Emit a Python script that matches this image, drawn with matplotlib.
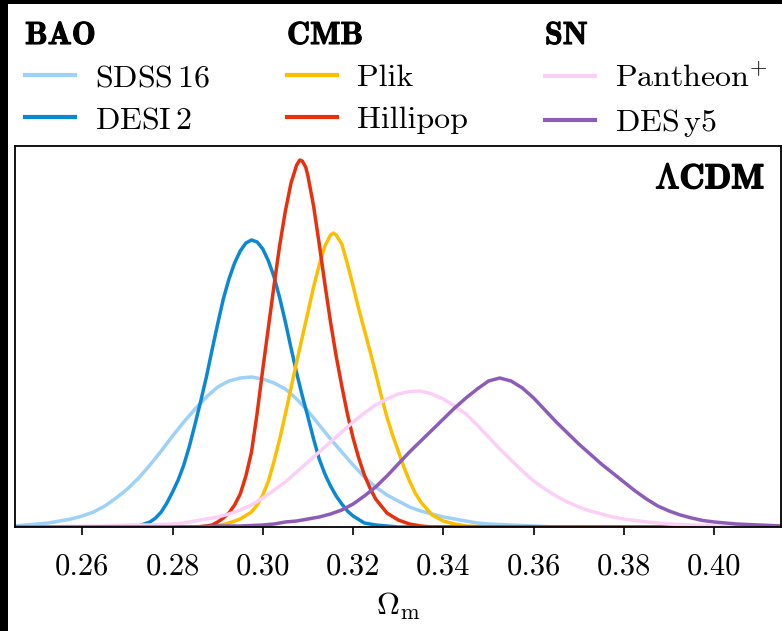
import matplotlib
matplotlib.use("Agg")
import matplotlib.pyplot as plt
import matplotlib.patheffects as pe
from matplotlib.patches import Rectangle
from matplotlib.font_manager import FontProperties
from matplotlib.ticker import FixedLocator, FixedFormatter

plt.rcParams.update({
    "font.family": "serif",
    "font.serif": ["cmr10"],
    "mathtext.fontset": "cm",
    "axes.unicode_minus": False,
    "axes.formatter.use_mathtext": True,
})

# ---------------- data (relative posterior heights) ----------------
sdss_x = [0.245, 0.2475, 0.250, 0.2525, 0.255, 0.2575, 0.260, 0.2625, 0.265, 0.2675,
          0.270, 0.2725, 0.275, 0.2775, 0.280, 0.2825, 0.285, 0.2875, 0.290, 0.2925,
          0.295, 0.2975, 0.300, 0.3025, 0.305, 0.3075, 0.310, 0.3125, 0.315, 0.3175,
          0.320, 0.3225, 0.325, 0.3275, 0.330, 0.3325, 0.335, 0.3375, 0.340, 0.3425,
          0.345, 0.3475, 0.350, 0.355, 0.360, 0.365, 0.415]
sdss_y = [1, 2, 3, 4, 6, 8, 11, 15, 21, 29,
          38, 49, 62, 76, 91, 105, 118, 130, 140, 146,
          149, 150, 148, 144, 138, 128, 116, 102, 88, 75,
          62, 50, 40, 32, 26, 20, 16, 13, 10, 8,
          6, 4, 3, 2, 1, 0, 0]

desi_x = [0.245, 0.270, 0.2725, 0.275, 0.27625, 0.2775, 0.27875, 0.280, 0.28125, 0.2825,
          0.28375, 0.285, 0.28625, 0.2875, 0.28875, 0.290, 0.29125, 0.2925, 0.29375, 0.295,
          0.29625, 0.2975, 0.29875, 0.300, 0.30125, 0.3025, 0.30375, 0.305, 0.30625, 0.3075,
          0.30875, 0.310, 0.31125, 0.3125, 0.31375, 0.315, 0.31625, 0.3175, 0.31875, 0.320,
          0.3225, 0.325, 0.3275, 0.330, 0.415]
desi_y = [0, 0, 1, 5, 9, 15, 24, 35, 47, 62,
          81, 103, 126, 150, 177, 203, 228, 248, 264, 276,
          284, 287, 285, 278, 266, 250, 229, 205, 179, 154,
          131, 110, 88, 68, 53, 41, 31, 23, 16, 11,
          4, 2, 1, 0, 0]

plik_x = [0.245, 0.285, 0.290, 0.2925, 0.295, 0.2975, 0.29875, 0.300, 0.30125, 0.3025,
          0.30375, 0.305, 0.30625, 0.3075, 0.30875, 0.310, 0.31125, 0.3125, 0.31375, 0.315,
          0.31563, 0.31625, 0.3175, 0.31875, 0.320, 0.32125, 0.3225, 0.32375, 0.325, 0.32625,
          0.3275, 0.32875, 0.330, 0.33125, 0.3325, 0.33375, 0.335, 0.3375, 0.340, 0.3425,
          0.345, 0.350, 0.415]
plik_y = [0, 0, 1, 4, 8, 15, 22, 32, 46, 66,
          88, 113, 139, 165, 190, 215, 240, 262, 281, 292,
          294, 292, 283, 263, 241, 218, 197, 176, 154, 131,
          110, 92, 76, 60, 46, 34, 25, 12, 6, 3,
          1, 0, 0]

hilli_x = [0.245, 0.285, 0.2875, 0.28875, 0.290, 0.29125, 0.2925, 0.29375, 0.295, 0.29625,
           0.2975, 0.29875, 0.300, 0.30125, 0.3025, 0.30375, 0.305, 0.30625, 0.3075, 0.3082,
           0.30875, 0.3095, 0.310, 0.31125, 0.3125, 0.31375, 0.315, 0.31625, 0.3175, 0.31875,
           0.320, 0.32125, 0.3225, 0.32375, 0.325, 0.3275, 0.330, 0.3325, 0.335, 0.3375,
           0.415]
hilli_y = [0, 0, 1, 2, 5, 9, 14, 22, 33, 51,
           75, 114, 158, 200, 242, 282, 316, 344, 362, 367,
           366, 360, 351, 321, 283, 243, 205, 171, 141, 113,
           89, 69, 52, 39, 28, 14, 7, 3, 1, 0,
           0]

panth_x = [0.245, 0.265, 0.270, 0.275, 0.280, 0.2825, 0.285, 0.2875, 0.290, 0.2925,
           0.295, 0.2975, 0.300, 0.3025, 0.305, 0.3075, 0.310, 0.3125, 0.315, 0.3175,
           0.320, 0.3225, 0.325, 0.3275, 0.330, 0.3325, 0.335, 0.3375, 0.340, 0.3425,
           0.345, 0.3475, 0.350, 0.3525, 0.355, 0.3575, 0.360, 0.3625, 0.365, 0.3675,
           0.370, 0.3725, 0.375, 0.3775, 0.380, 0.385, 0.390, 0.395, 0.400, 0.405,
           0.415]
panth_y = [0, 1, 2, 2, 3, 4, 6, 8, 10, 13,
           17, 22, 29, 37, 45, 55, 65, 75, 85, 95,
           105, 114, 122, 128, 133, 135.5, 136, 133, 128, 121,
           113, 102, 90, 78, 67, 56, 46, 38, 31, 25,
           20, 16, 13, 10, 8, 5, 3, 2, 1, 0,
           0]

desy5_x = [0.245, 0.285, 0.290, 0.295, 0.300, 0.3025, 0.305, 0.3075, 0.310, 0.3125,
           0.315, 0.3175, 0.320, 0.3225, 0.325, 0.3275, 0.330, 0.3325, 0.335, 0.3375,
           0.340, 0.3425, 0.345, 0.3475, 0.350, 0.3525, 0.355, 0.3575, 0.360, 0.3625,
           0.365, 0.3675, 0.370, 0.3725, 0.375, 0.3775, 0.380, 0.3825, 0.385, 0.3875,
           0.390, 0.3925, 0.395, 0.3975, 0.400, 0.405, 0.410, 0.415]
desy5_y = [0, 0, 1, 1, 2, 3, 5, 6, 8, 10,
           13, 17, 23, 31, 40, 51, 63, 75, 86, 97,
           108, 119, 129, 138, 146, 149, 146, 139, 129, 117,
           105, 94, 83, 73, 63, 54, 45, 36, 28, 21,
           16, 12, 9, 6.5, 5, 3, 2, 1]

xticks = [0.26, 0.28, 0.30, 0.32, 0.34, 0.36, 0.38, 0.40]
xticklabels = ["0.26", "0.28", "0.30", "0.32", "0.34", "0.36", "0.38", "0.40"]

# ---------------- figure ----------------
W, H = 782, 631
fig = plt.figure(figsize=(W / 100, H / 100), dpi=100, facecolor="black")
fig.add_artist(Rectangle((8 / W, 0), 1, 1 - 4 / H, transform=fig.transFigure,
                         facecolor="white", edgecolor="none", zorder=-10))

ax = fig.add_axes([15 / W, 1 - 527 / H, (781 - 15) / W, (527 - 146) / H])

lw = 2.5
l1, = ax.plot(sdss_x, sdss_y, color="#9dd1f7", lw=lw)
l2, = ax.plot(desi_x, desi_y, color="#0a88d2", lw=lw)
l3, = ax.plot(plik_x, plik_y, color="#fbbf00", lw=lw)
l4, = ax.plot(hilli_x, hilli_y, color="#e8300c", lw=lw)
l5, = ax.plot(panth_x, panth_y, color="#fbd0f6", lw=lw)
l6, = ax.plot(desy5_x, desy5_y, color="#8c5cb8", lw=lw)

ax.set_xlim(0.2451, 0.4148)
ax.set_ylim(0, 381)
ax.xaxis.set_major_locator(FixedLocator(xticks))
ax.xaxis.set_major_formatter(FixedFormatter(xticklabels))
ax.set_yticks([])
ax.tick_params(axis="x", direction="out", length=6, width=1.2, labelsize=22, pad=13)
for s in ax.spines.values():
    s.set_linewidth(1.3)
ax.set_xlabel(r"$\Omega_{\rm m}$", fontsize=23, labelpad=7)

ax.text(0.979, 0.911, r"$\Lambda$CDM", transform=ax.transAxes,
        ha="right", va="center", fontsize=25, fontfamily="cmb10",
        path_effects=[pe.withStroke(linewidth=1.1, foreground="black")])

title_fp = FontProperties(family="cmb10", size=23)
label_fp = FontProperties(family="cmr10", size=23)
groups = [
    ("BAO", [l1, l2], [r"SDSS$\,$16", r"DESI$\,$2"], 25),
    ("CMB", [l3, l4], ["Plik", "Hillipop"], 287),
    ("SN", [l5, l6], [r"Pantheon$^{+}$", r"DES$\,$y5"], 545),
]
for title, hs, labs, xpx in groups:
    leg = fig.legend(hs, labs, title=title, loc="upper left",
                     bbox_to_anchor=(xpx / W, 1 - 21 / H),
                     frameon=False, prop=label_fp, title_fontproperties=title_fp,
                     alignment="left", handlelength=1.55, handletextpad=0.65,
                     labelspacing=0.43, borderpad=0, borderaxespad=0)
    leg.get_title().set_path_effects([pe.withStroke(linewidth=0.8, foreground="black")])
    for ln in leg.get_lines():
        ln.set_linewidth(3.0)

fig.savefig("out.png", dpi=100, facecolor=fig.get_facecolor())
